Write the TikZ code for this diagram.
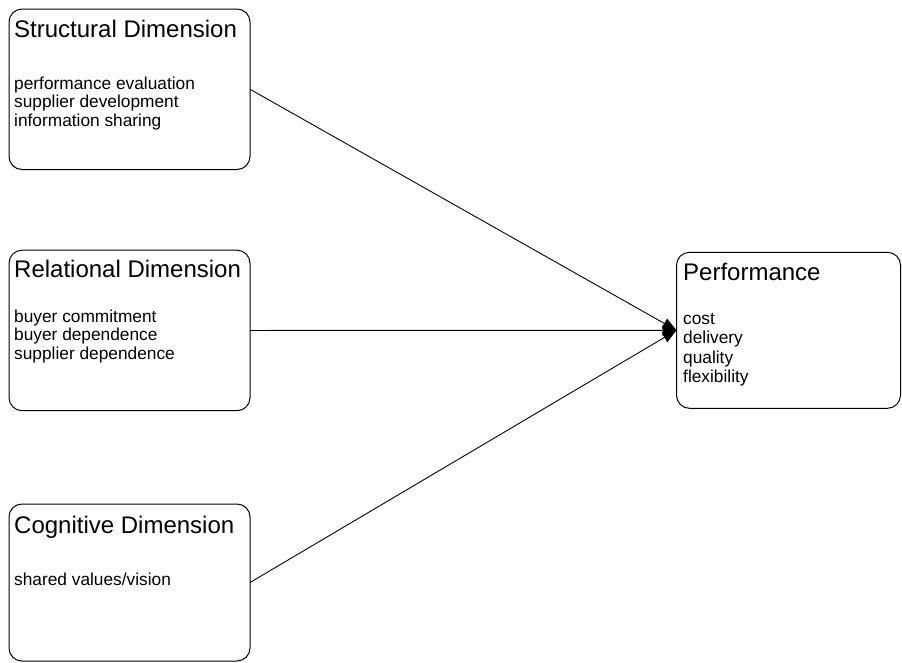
\documentclass[tikz,border=0pt]{standalone}
\usepackage{fontspec}
\setmainfont{Liberation Sans}
\usetikzlibrary{arrows.meta}
\begin{document}
\begin{tikzpicture}[x=1pt,y=-1pt,
  box/.style={draw=black,line width=1pt,rounded corners=13pt,inner sep=0pt,outer sep=0pt,anchor=north west},
  ttl/.style={anchor=base west,inner sep=0pt,font=\fontsize{24}{28}\selectfont},
  itm/.style={anchor=base west,inner sep=0pt,font=\fontsize{17.3}{19}\selectfont},
  arr/.style={line width=0.9pt,-{Triangle[length=14pt,width=11pt]}}]
\useasboundingbox (0,0) rectangle (902,662);
% boxes
\node[box,minimum width=241pt,minimum height=160.5pt] (sd) at (9,9) {};
\node[box,minimum width=241pt,minimum height=160.5pt] (rd) at (9,250.2) {};
\node[box,minimum width=241pt,minimum height=157pt] (cd) at (9,504) {};
\node[box,minimum width=224pt,minimum height=156pt] (pf) at (676.5,252.3) {};
% structural
\node[ttl] (sdt) at (14,37) {Structural Dimension};
\node[itm] (sd1) at (14,89) {performance evaluation};
\node[itm] (sd2) at (14,107.5) {supplier development};
\node[itm] (sd3) at (14,126) {information sharing};
% relational
\node[ttl] (rdt) at (14,277.5) {Relational Dimension};
\node[itm] (rd1) at (14,322) {buyer commitment};
\node[itm] (rd2) at (14,340.5) {buyer dependence};
\node[itm] (rd3) at (14,359) {supplier dependence};
% cognitive
\node[ttl] (cdt) at (14,533) {Cognitive Dimension};
\node[itm] (cd1) at (14,585) {shared values/vision};
% performance
\node[ttl] (pft) at (683,280) {Performance};
\node[itm] (pf1) at (683,324) {cost};
\node[itm] (pf2) at (683,343.5) {delivery};
\node[itm] (pf3) at (683,363) {quality};
\node[itm] (pf4) at (683,382.5) {flexibility};
% connectors
\draw[arr] (sd.east) -- (pf.west);
\draw[arr] (rd.east) -- (pf.west);
\draw[arr] (cd.east) -- (pf.west);
\end{tikzpicture}
\end{document}
